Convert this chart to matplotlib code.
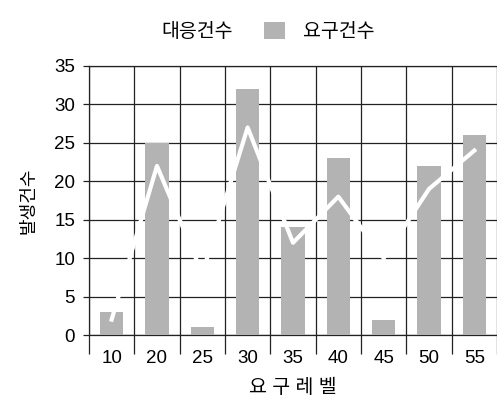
import numpy as np
import matplotlib
matplotlib.use("Agg")
import matplotlib.pyplot as plt

plt.rcParams['font.family'] = ['Liberation Sans', 'Noto Sans CJK KR', 'DejaVu Sans']

# data
levels = ['10', '20', '25', '30', '35', '40', '45', '50', '55']
request_counts = [3, 25, 1, 32, 14, 23, 2, 22, 26]      # 요구건수 (bars)
response_counts = [2, 22, 8, 27, 12, 18, 10, 19, 24]    # 대응건수 (white line)
y_ticks = [0, 5, 10, 15, 20, 25, 30, 35]

fig = plt.figure(figsize=(4.97, 4.00), dpi=100)
ax = fig.add_axes([0.179, 0.1625, 0.821, 0.6725])

x = np.arange(len(levels))
bars = ax.bar(x, request_counts, width=0.52, color='#b3b3b3', edgecolor='none',
              zorder=3, label='요구건수')
line, = ax.plot(x, response_counts, color='white', linewidth=3, zorder=4,
                label='대응건수')

ax.set_xlim(-0.5, len(levels) - 0.5)
ax.set_ylim(0, 35)
ax.set_yticks(y_ticks)
ax.set_xticks(x)
ax.set_xticklabels(levels)
ax.set_xticks(np.arange(-0.5, len(levels)), minor=True)

# grid: horizontal at every 5, vertical at category boundaries
ax.grid(axis='y', which='major', color='#222222', linewidth=0.9, zorder=1)
ax.grid(axis='x', which='minor', color='#222222', linewidth=0.9, zorder=1)
ax.grid(axis='x', which='major', visible=False)

ax.tick_params(axis='x', which='major', length=0, pad=11, labelsize=13.5)
ax.tick_params(axis='x', which='minor', length=14, width=0.9, direction='out',
               color='#222222')
ax.tick_params(axis='y', length=4, width=0.9, pad=6, labelsize=13.5,
               color='#222222')

for side in ['top', 'right', 'bottom', 'left']:
    ax.spines[side].set_color('#222222')
    ax.spines[side].set_linewidth(0.9)
ax.spines['right'].set_visible(False)

ax.set_xlabel('요 구 레 벨', fontsize=14, labelpad=8)
ax.set_ylabel('발생건수', fontsize=13, labelpad=12)

fig.legend(handles=[line, bars], labels=['대응건수', '요구건수'],
           loc='upper center', bbox_to_anchor=(0.5, 0.99), ncol=2,
           frameon=False, fontsize=14, handlelength=1.1, handleheight=1.0,
           handletextpad=0.9, columnspacing=1.6)

fig.savefig('out.png', dpi=100)
